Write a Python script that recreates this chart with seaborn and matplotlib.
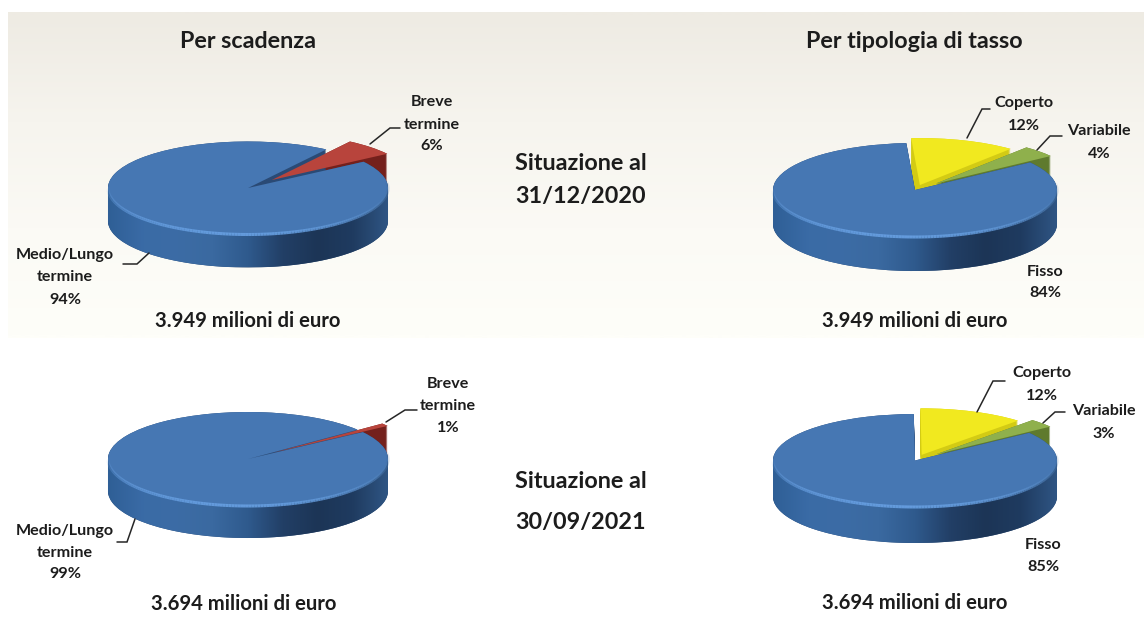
import numpy as np
import matplotlib
matplotlib.use("Agg")
import matplotlib.pyplot as plt
import seaborn as sns
from matplotlib.path import Path
from matplotlib.collections import LineCollection
from matplotlib.colors import to_rgb

sns.set_theme(style="white")
plt.rcParams['font.family'] = ['Lato', 'DejaVu Sans']

W, H = 1144, 639

# Data
scadenza_labels = ["Medio/Lungo termine", "Breve termine"]
scadenza_2020 = [94, 6]
scadenza_2021 = [99, 1]
tasso_labels = ["Fisso", "Variabile", "Coperto"]
tasso_2020 = [84, 4, 12]
tasso_2021 = [85, 3, 12]
titles = ["Per scadenza", "Per tipologia di tasso"]
dates = ["31/12/2020", "30/09/2021"]
totals = ["3.949 milioni di euro", "3.694 milioni di euro"]

BLUE, BLUE_WALL = "#4677b3", "#2a4a75"
RED, RED_WALL = "#b8443c", "#74201c"
GREEN, GREEN_WALL = "#8fb04c", "#5f7a2e"
YELLOW, YELLOW_WALL = "#f1e91f", "#d3cb14"
TEXT = "#1c1c1c"

fig = plt.figure(figsize=(W / 100, H / 100), dpi=100, facecolor="white")

# Background band
bg = fig.add_axes([0, 0, 1, 1], zorder=0)
bg.axis("off")
bg_cols = sns.blend_palette(["#eeebe3", "#f6f4ee", "#fbfaf5", "#fefef9"], 64)
bg.imshow(np.array(bg_cols)[:, None, :], extent=(8, W, 338, 12), aspect="auto",
          interpolation="bilinear")
bg.set_xlim(0, W)
bg.set_ylim(H, 0)

side_cols = sns.blend_palette(
    ["#2f5f96", "#3a6ba6", "#3c6ca5", "#3a69a0", "#2f5a8d", "#223f66", "#1c3556", "#1f3b60", "#2f5583"], 256)


def pie3d(values, cx, cy, rx, ry, depth, start, explode, tops, walls, z):
    ax = fig.add_axes([0, 0, 1, 1], zorder=z)
    ax.axis("off")
    ax.patch.set_visible(False)
    d = depth / ry
    wp = dict(linewidth=0, antialiased=True)
    # walls, back to front: non-blue first, then blue
    for k in range(int(depth), -1, -1):
        offs = -d * k / depth
        ax.pie(values, startangle=start, explode=explode, colors=["none"] + walls[1:],
               center=(0, offs), radius=1, wedgeprops=wp, normalize=True)
    for k in range(int(depth), -1, -1):
        offs = -d * k / depth
        ax.pie(values, startangle=start, explode=explode, colors=[walls[0]] + ["none"] * (len(values) - 1),
               center=(0, offs), radius=1, wedgeprops=wp, normalize=True)
    # front wall gradient
    t = np.linspace(np.pi, 2 * np.pi, 200)
    xs = np.r_[np.cos(t), np.cos(t[::-1])]
    ys = np.r_[np.sin(t), np.sin(t[::-1]) - d]
    im = ax.imshow(np.array(side_cols)[None, :, :], extent=(-1, 1, -1 - d, 0), aspect="auto",
                   interpolation="bilinear", zorder=1.5)
    im.set_clip_path(Path(np.c_[xs, ys]), ax.transData)
    # top faces: blue then others in order
    ax.pie(values, startangle=start, explode=explode, colors=[tops[0]] + ["none"] * (len(values) - 1),
           wedgeprops=wp, normalize=True)
    for w in ax.patches[-len(values):]:
        w.set_zorder(2)
    for i in range(1, len(values)):
        cs = ["none"] * len(values)
        cs[i] = tops[i]
        ax.pie(values, startangle=start, explode=explode, colors=cs, wedgeprops=wp, normalize=True)
        for w in ax.patches[-len(values):]:
            w.set_zorder(3 + i)
    # front rim highlight
    t2 = np.linspace(np.pi, 2.05 * np.pi, 160)
    pts = np.c_[np.cos(t2), np.sin(t2)]
    segs = np.stack([pts[:-1], pts[1:]], axis=1)
    u = np.linspace(0, 1, len(segs))
    a = np.clip(np.sin(np.pi * u) ** 0.7, 0, 1) * 0.9
    base = np.array(to_rgb("#6aa3e6"))
    dark = np.array(to_rgb("#3a6595"))
    cols = np.c_[base * (1 - u[:, None] ** 4) + dark * u[:, None] ** 4, a]
    ax.add_collection(LineCollection(segs, colors=cols, linewidths=2.2, zorder=2.5))
    ax.set_aspect("auto")
    ax.set_xlim(-cx / rx, (W - cx) / rx)
    ax.set_ylim(-(H - cy) / ry, cy / ry)
    return ax


pie3d(scadenza_2020, 248, 188, 140, 46.5, 33, 56, [0, 0.24], [BLUE, RED], [BLUE_WALL, RED_WALL], 2)
pie3d(scadenza_2021, 248, 459, 140, 47, 32, 38.5, [0, 0.22], [BLUE, RED], [BLUE_WALL, RED_WALL], 2)
pie3d(tasso_2020, 915, 190, 142, 47, 34, 93.5, [0, 0.2, 0.11], [BLUE, GREEN, YELLOW],
      [BLUE_WALL, GREEN_WALL, YELLOW_WALL], 2)
pie3d(tasso_2021, 915, 460.5, 142, 46.5, 36, 90.5, [0, 0.2, 0.13], [BLUE, GREEN, YELLOW],
      [BLUE_WALL, GREEN_WALL, YELLOW_WALL], 2)

# overlay for text and leaders
ov = fig.add_axes([0, 0, 1, 1], zorder=5)
ov.axis("off")
ov.patch.set_visible(False)
ov.set_xlim(0, W)
ov.set_ylim(H, 0)


def T(x, y, s, size=11.6):
    ov.text(x, y, s, ha="center", va="center", fontsize=size, fontweight="bold", color=TEXT)


def leader(xs, ys):
    ov.plot(xs, ys, color="#262626", lw=1.1, solid_joinstyle="miter")


# headers
T(248, 41, titles[0], 16.8)
T(914, 41, titles[1], 16.8)
T(581, 164, "Situazione al", 16.8)
T(581, 197, dates[0], 16.8)
T(581, 481, "Situazione al", 16.8)
T(581, 522, dates[1], 16.8)

# totals
T(248, 321, totals[0], 14.6)
T(915, 321, totals[0], 14.6)
T(244, 604, totals[1], 14.6)
T(915, 603, totals[1], 14.6)

# top-left labels
T(432, 102, "Breve")
T(432, 125, "termine")
T(432, 146, f"{scadenza_2020[1]}%")
T(65, 255, "Medio/Lungo")
T(65, 277, "termine")
T(65, 300, f"{scadenza_2020[0]}%")
leader([370, 390, 400], [144, 128, 128])
leader([149, 137, 123], [253, 264, 264])

# bottom-left labels
T(448, 384, "Breve")
T(448, 406, "termine")
T(448, 428, f"{scadenza_2021[1]}%")
T(65, 531, "Medio/Lungo")
T(65, 553, "termine")
T(65, 574, f"{scadenza_2021[0]}%")
leader([386, 405, 417], [422, 410, 410])
leader([135, 127, 117], [519, 542, 542])

# top-right labels
T(1024, 103, tasso_labels[2])
T(1024, 126, f"{tasso_2020[2]}%")
T(1099, 131, tasso_labels[1])
T(1099, 154, f"{tasso_2020[1]}%")
T(1045, 272, tasso_labels[0])
T(1045, 293, f"{tasso_2020[0]}%")
leader([967, 982, 990], [138, 109, 109])
leader([1037, 1050, 1062], [150, 136, 136])

# bottom-right labels
T(1042, 373, tasso_labels[2])
T(1042, 396, f"{tasso_2021[2]}%")
T(1104, 411, tasso_labels[1])
T(1104, 434, f"{tasso_2021[1]}%")
T(1043, 545, tasso_labels[0])
T(1043, 567, f"{tasso_2021[0]}%")
leader([977, 993, 1005], [412, 381, 381])
leader([1043, 1055, 1065], [423, 412, 412])

fig.savefig("out.png", dpi=100, facecolor="white")
